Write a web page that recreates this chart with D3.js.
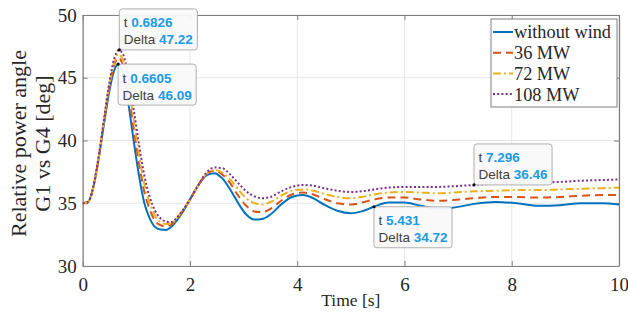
<!DOCTYPE html>
<html>
<head>
<meta charset="utf-8">
<script src="https://cdn.jsdelivr.net/npm/d3@7"></script>
<style>
  html, body { margin: 0; padding: 0; background: #fff; }
  svg { display: block; }
</style>
</head>
<body>
<div id="chart"></div>
<script>
// ---------------- data ----------------
const times = [0, 0.1, 0.2, 0.3, 0.4, 0.5, 0.58, 0.67, 0.75, 0.85, 0.95, 1.05, 1.15, 1.25, 1.35, 1.45, 1.55, 1.65, 1.75, 1.85,
  2.0, 2.15, 2.3, 2.45, 2.6, 2.75, 2.9, 3.05, 3.2, 3.35, 3.5, 3.7, 3.9, 4.1, 4.3, 4.5, 4.75, 5.0, 5.2, 5.43,
  5.7, 6.0, 6.3, 6.6, 6.9, 7.3, 7.7, 8.1, 8.5, 8.9, 9.3, 9.7, 10];

const withoutWind = [35.0, 35.1, 36.3, 38.6, 41.4, 44.0, 45.5, 46.08, 45.3, 43.0, 40.0, 37.2, 35.0, 33.8, 33.1, 32.9, 32.87, 33.1, 33.6, 34.2,
  35.3, 36.4, 37.2, 37.4, 37.0, 36.1, 35.0, 34.1, 33.7, 33.75, 34.1, 34.9, 35.5, 35.65, 35.4, 34.9, 34.4, 34.2, 34.35, 34.72,
  35.05, 35.05, 34.8, 34.6, 34.65, 34.95, 35.1, 35.0, 34.8, 34.85, 35.0, 35.0, 34.9];

const mw36 = [35.0, 35.1, 36.3, 38.7, 41.6, 44.3, 45.9, 46.6, 46.0, 43.9, 41.0, 38.2, 35.9, 34.5, 33.6, 33.25, 33.15, 33.3, 33.7, 34.3,
  35.3, 36.4, 37.3, 37.6, 37.3, 36.6, 35.6, 34.8, 34.35, 34.3, 34.55, 35.2, 35.7, 35.85, 35.7, 35.35, 35.0, 34.9, 35.05, 35.3,
  35.45, 35.45, 35.3, 35.2, 35.25, 35.4, 35.5, 35.5, 35.45, 35.5, 35.6, 35.65, 35.65];

const mw72 = [35.0, 35.1, 36.3, 38.7, 41.7, 44.5, 46.1, 46.9, 46.4, 44.5, 41.7, 38.9, 36.5, 35.0, 34.0, 33.5, 33.35, 33.4, 33.8, 34.35,
  35.3, 36.4, 37.3, 37.65, 37.45, 36.9, 36.1, 35.4, 35.0, 34.9, 35.1, 35.6, 36.0, 36.1, 36.0, 35.75, 35.5, 35.4, 35.5, 35.7,
  35.85, 35.9, 35.85, 35.8, 35.85, 35.95, 36.0, 36.05, 36.05, 36.1, 36.15, 36.2, 36.25];

const mw108 = [35.0, 35.1, 36.4, 38.8, 41.8, 44.7, 46.4, 47.2, 46.9, 45.1, 42.5, 39.7, 37.2, 35.5, 34.4, 33.8, 33.55, 33.5, 33.8, 34.35,
  35.3, 36.4, 37.4, 37.85, 37.8, 37.3, 36.6, 35.95, 35.55, 35.4, 35.5, 35.95, 36.3, 36.45, 36.4, 36.2, 36.0, 35.9, 35.95, 36.1,
  36.25, 36.3, 36.3, 36.3, 36.35, 36.46, 36.55, 36.6, 36.65, 36.7, 36.8, 36.85, 36.9];

const seriesNames = ["without wind", "36 MW", "72 MW", "108 MW"];
const seriesValues = [withoutWind, mw36, mw72, mw108];

const xTicks = [0, 2, 4, 6, 8, 10];
const yTicks = [30, 35, 40, 45, 50];

// data tips
const tipT = [0.6826, 0.6605, 5.431, 7.296];
const tipV = [47.22, 46.09, 34.72, 36.46];
const tipAbove = [true, false, false, true];

// ---------------- styles ----------------
const colors = ["#0072BD", "#D95319", "#EDB120", "#7E2F8E"];
const dashes = [null, "8,5", "8,3,2,3", "2,2.2"];

const W = 628, H = 322;
const margin = { left: 82.7, right: 9, top: 15, bottom: 56 };
const x = d3.scaleLinear().domain([0, 10]).range([margin.left, W - margin.right]);
const y = d3.scaleLinear().domain([30, 50]).range([H - margin.bottom, margin.top]);

const svg = d3.select("#chart").append("svg").attr("width", W).attr("height", H);
svg.append("rect").attr("width", W).attr("height", H).attr("fill", "#fff");

const x0 = x.range()[0], x1 = x.range()[1], y0 = y.range()[0], y1 = y.range()[1];

// grid
const grid = svg.append("g");
grid.selectAll("line.gx").data(xTicks).join("line")
  .attr("x1", d => x(d)).attr("x2", d => x(d)).attr("y1", y1).attr("y2", y0)
  .attr("stroke", "#e6e6e6").attr("stroke-width", 1);
grid.selectAll("line.gy").data(yTicks).join("line")
  .attr("x1", x0).attr("x2", x1).attr("y1", d => y(d)).attr("y2", d => y(d))
  .attr("stroke", "#e6e6e6").attr("stroke-width", 1);

// axes
const axisColor = "#7f7f7f";
const tickFont = "'Liberation Serif', 'Times New Roman', serif";
const xAxis = svg.append("g").attr("transform", `translate(0,${y0})`)
  .call(d3.axisBottom(x).tickValues(xTicks).tickSizeInner(-5).tickSizeOuter(0).tickPadding(12));
const yAxis = svg.append("g").attr("transform", `translate(${x0},0)`)
  .call(d3.axisLeft(y).tickValues(yTicks).tickSizeInner(-5).tickSizeOuter(0).tickPadding(6));
const xTop = svg.append("g").attr("transform", `translate(0,${y1})`)
  .call(d3.axisTop(x).tickValues(xTicks).tickSizeInner(-5).tickSizeOuter(0).tickFormat(""));
const yRight = svg.append("g").attr("transform", `translate(${x1},0)`)
  .call(d3.axisRight(y).tickValues(yTicks).tickSizeInner(-5).tickSizeOuter(0).tickFormat(""));
[xAxis, yAxis, xTop, yRight].forEach(g => {
  g.select(".domain").attr("stroke", axisColor).attr("stroke-width", 1.2);
  g.selectAll(".tick line").attr("stroke", axisColor);
  g.selectAll("text").attr("font-family", tickFont).attr("font-size", 19).attr("fill", "#262626");
});
xAxis.selectAll("text").attr("dy", "0.71em");

// lines
const line = d3.line().x((d, i) => x(times[i])).y(d => y(d)).curve(d3.curveMonotoneX);
const clip = svg.append("clipPath").attr("id", "clip").append("rect")
  .attr("x", x0).attr("y", y1).attr("width", x1 - x0).attr("height", y0 - y1);
const linesG = svg.append("g").attr("clip-path", "url(#clip)");
seriesValues.forEach((vals, k) => {
  linesG.append("path").attr("d", line(vals)).attr("fill", "none")
    .attr("stroke", colors[k]).attr("stroke-width", 2)
    .attr("stroke-dasharray", dashes[k]);
});

// data tips
const tipFont = "'Liberation Sans', Arial, Helvetica, sans-serif";
const tipsG = svg.append("g");
tipT.forEach((t, i) => {
  const px = x(t), py = y(tipV[i]);
  const g = tipsG.append("g");
  const rect = g.append("rect");
  const t1 = g.append("text").attr("font-family", tipFont).attr("font-size", 13.5);
  t1.append("tspan").attr("fill", "#404040").text("t ");
  t1.append("tspan").attr("fill", "#1a9be6").attr("font-weight", "bold").text(String(t));
  const t2 = g.append("text").attr("font-family", tipFont).attr("font-size", 13.5);
  t2.append("tspan").attr("fill", "#404040").text("Delta ");
  t2.append("tspan").attr("fill", "#1a9be6").attr("font-weight", "bold").text(tipV[i].toFixed(2));
  const wText = Math.max(t1.node().getComputedTextLength(), t2.node().getComputedTextLength());
  const bw = wText + 9, bh = 41;
  const top = tipAbove[i] ? py - bh : py;
  rect.attr("x", px).attr("y", top).attr("width", bw).attr("height", bh)
    .attr("rx", 3).attr("fill", "#f9f9fa").attr("fill-opacity", 0.95)
    .attr("stroke", "#b0b0b0").attr("stroke-width", 1);
  t1.attr("x", px + 4.5).attr("y", top + 18.5);
  t2.attr("x", px + 4.5).attr("y", top + 35.5);
  tipsG.append("circle").attr("cx", px).attr("cy", py).attr("r", 1.6).attr("fill", "#111");
});

// legend
const legX = 491, legY = 19, legW = 126, legH = 88, rowH = 20.7;
const leg = svg.append("g");
leg.append("rect").attr("x", legX).attr("y", legY).attr("width", legW).attr("height", legH)
  .attr("fill", "#fff").attr("stroke", "#7f7f7f").attr("stroke-width", 1);
seriesNames.forEach((name, k) => {
  const cy = legY + 13 + k * rowH;
  leg.append("line").attr("x1", legX + 2).attr("x2", legX + 22).attr("y1", cy).attr("y2", cy)
    .attr("stroke", colors[k]).attr("stroke-width", 2).attr("stroke-dasharray", dashes[k]);
  leg.append("text").attr("x", legX + 23).attr("y", cy).attr("dy", "0.35em")
    .attr("font-family", tickFont).attr("font-size", 18.3).attr("fill", "#262626").text(name);
});

// axis labels
svg.append("text").attr("x", (x0 + x1) / 2).attr("y", 306)
  .attr("text-anchor", "middle").attr("font-family", tickFont).attr("font-size", 17.5)
  .attr("fill", "#262626").text("Time [s]");
const yl = svg.append("text").attr("transform", `translate(0,${(y0 + y1) / 2 + 3}) rotate(-90)`)
  .attr("text-anchor", "middle").attr("font-family", tickFont).attr("font-size", 22).attr("fill", "#262626");
yl.append("tspan").attr("x", 0).attr("y", 26).text("Relative power angle");
yl.append("tspan").attr("x", 0).attr("y", 50).text("G1 vs G4 [deg]");
</script>
</body>
</html>
